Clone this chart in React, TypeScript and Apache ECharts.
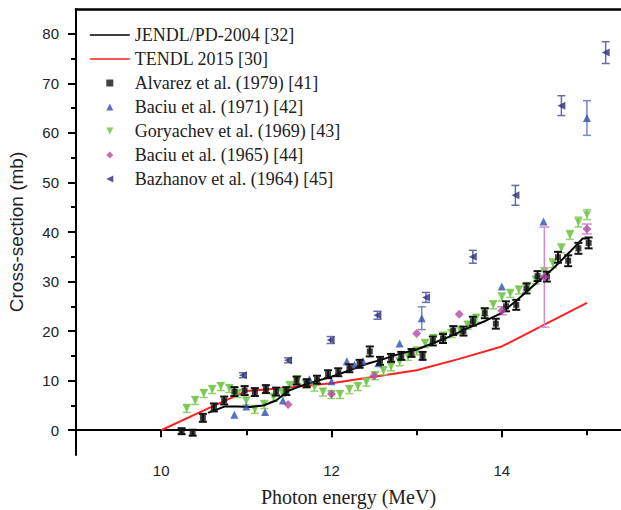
import React, { useEffect, useRef } from "react";
import * as echarts from "echarts";

// ---------- Data ----------
const jendlE = [10.55, 10.75, 10.9, 11.05, 11.2, 11.35, 11.5, 11.65, 11.8, 12.0, 12.2, 12.4, 12.6, 12.8, 13.0, 13.2, 13.4, 13.6, 13.8, 14.0, 14.2, 14.4, 14.6, 14.8, 14.95, 15.02];
const jendlCS = [3.5, 4.8, 4.8, 4.7, 5.0, 6.0, 8.0, 9.0, 9.8, 10.8, 12.0, 13.3, 14.3, 15.4, 16.3, 17.6, 19.0, 20.6, 22.0, 23.7, 26.6, 29.6, 32.6, 36.0, 38.7, 38.7];

const tendlE = [10.0, 10.5, 11.0, 11.5, 12.0, 12.5, 13.0, 13.5, 14.0, 14.5, 15.0];
const tendlCS = [0.0, 4.0, 7.9, 8.6, 9.5, 10.8, 12.1, 14.4, 16.9, 21.3, 25.7];

const alvarezE = [10.24, 10.37, 10.49, 10.62, 10.74, 10.86, 10.98, 11.10, 11.23, 11.35, 11.47, 11.59, 11.71, 11.83, 11.96, 12.08, 12.21, 12.33, 12.45, 12.57, 12.70, 12.82, 12.94, 13.07, 13.19, 13.31, 13.43, 13.55, 13.66, 13.80, 13.93, 14.05, 14.17, 14.29, 14.42, 14.53, 14.66, 14.78, 14.90, 15.02];
const alvarezCS = [-0.2, -0.5, 2.5, 4.6, 6.0, 7.8, 8.0, 7.7, 8.3, 7.8, 7.9, 10.0, 9.5, 10.2, 11.3, 11.7, 12.5, 13.4, 15.9, 14.0, 14.6, 15.0, 15.6, 15.0, 18.0, 18.5, 20.1, 20.0, 22.0, 23.6, 21.5, 25.0, 25.3, 28.6, 31.1, 31.0, 34.9, 34.2, 36.7, 37.8];
const alvarezErr = [0.6, 0.6, 0.8, 0.8, 0.8, 0.9, 0.9, 0.8, 0.8, 0.8, 0.8, 0.8, 0.8, 0.8, 0.8, 0.8, 0.8, 0.8, 1.0, 0.8, 0.8, 0.8, 0.8, 0.8, 0.9, 0.9, 0.9, 0.9, 0.9, 1.0, 1.0, 1.0, 1.0, 1.0, 1.0, 1.0, 1.1, 1.1, 1.1, 1.1];

const baciu71E = [10.86, 11.0, 11.22, 11.43, 11.74, 12.0, 12.18, 12.27, 12.37, 12.55, 12.80, 13.06, 14.0, 14.49, 15.0];
const baciu71CS = [3.1, 4.8, 3.7, 6.0, 10.3, 9.9, 13.9, 13.2, 13.9, 13.5, 17.5, 22.6, 29.0, 42.1, 63.0];
const baciu71Err = [0, 0, 0, 0, 0, 0, 0, 0, 0, 0, 0, 2.3, 0, 0, 3.5];

const goryE = [10.30, 10.40, 10.50, 10.60, 10.70, 10.80, 10.90, 11.00, 11.10, 11.21, 11.32, 11.42, 11.51, 11.60, 11.70, 11.80, 11.90, 12.00, 12.10, 12.21, 12.31, 12.41, 12.51, 12.61, 12.70, 12.80, 12.90, 13.00, 13.10, 13.20, 13.31, 13.41, 13.51, 13.60, 13.70, 13.80, 13.90, 14.00, 14.10, 14.20, 14.30, 14.40, 14.50, 14.60, 14.70, 14.80, 14.90, 15.00];
const goryCS = [4.4, 6.0, 7.4, 8.2, 8.8, 8.4, 7.4, 5.9, 4.2, 5.2, 6.6, 7.6, 9.0, 10.2, 9.3, 8.7, 7.7, 7.2, 7.2, 8.2, 8.8, 9.7, 11.0, 12.0, 12.8, 13.8, 14.9, 16.0, 17.5, 18.5, 19.0, 19.5, 20.2, 21.2, 22.6, 23.9, 25.3, 26.9, 27.6, 28.3, 29.0, 30.3, 32.0, 33.7, 36.7, 39.4, 42.0, 43.5];
const goryErr = [0.8, 0.8, 0.8, 0.8, 0.8, 0.8, 0.8, 0.8, 0.8, 0.8, 0.8, 0.8, 0.8, 0.8, 0.8, 0.8, 0.8, 0.8, 0.8, 0.8, 0.8, 0.8, 0.8, 0.8, 0.8, 0.8, 0.8, 0.8, 0.8, 0.8, 0.8, 0.8, 0.8, 0.8, 0.8, 0.8, 0.8, 0.8, 0.8, 0.8, 0.8, 0.8, 0.8, 0.9, 0.9, 0.9, 1.0, 1.0];

const baciu65E = [11.49, 12.0, 12.5, 13.0, 13.5, 14.0, 14.5, 15.0];
const baciu65CS = [5.2, 7.3, 11.0, 19.5, 23.4, 24.1, 30.9, 40.6];
const baciu65Err = [0, 0, 0, 0, 0, 0.8, 10.1, 1.0];

const bazhE = [10.96, 11.49, 11.99, 12.54, 13.11, 13.66, 14.16, 14.70, 15.22];
const bazhCS = [11.1, 14.1, 18.2, 23.2, 26.8, 35.0, 47.4, 65.5, 76.2];
const bazhErr = [0.5, 0.5, 0.7, 0.8, 1.0, 1.3, 2.0, 2.0, 2.2];

const xMajorLabels = [10, 12, 14];
const xMinorTicks = [11, 13, 15];
const yMajorLabels = [0, 10, 20, 30, 40, 50, 60, 70, 80];
const yMinorTicks = [5, 15, 25, 35, 45, 55, 65, 75];

const names = [
  "JENDL/PD-2004 [32]",
  "TENDL 2015 [30]",
  "Alvarez et al. (1979) [41]",
  "Baciu et al. (1971) [42]",
  "Goryachev et al. (1969) [43]",
  "Baciu et al. (1965) [44]",
  "Bazhanov et al. (1964) [45]",
];

const ICON_SQUARE = "path://M0,0L10,0L10,10L0,10Z";
const ICON_UP = "path://M5,0L10,10L0,10Z";
const ICON_DOWN = "path://M0,0L10,0L5,10Z";
const ICON_DIAMOND = "path://M5,0L10,5L5,10L0,5Z";
const ICON_LEFT = "path://M0,5L10,0L10,10Z";

const zip2 = (xs: number[], ys: number[]) => xs.map((x, i) => [x, ys[i]]);
const zip3 = (xs: number[], ys: number[], es: number[]) => xs.map((x, i) => [x, ys[i], es[i]]);

function errSeries(name: string, data: number[][], color: string, capHalf: number, lw: number, z: number) {
  return {
    type: "custom",
    name,
    silent: true,
    z,
    encode: { x: 0, y: 1 },
    data,
    renderItem: (params: any, api: any) => {
      const x = api.value(0);
      const y = api.value(1);
      const e = api.value(2);
      if (!e) return null;
      const t = api.coord([x, y + e]);
      const b = api.coord([x, y - e]);
      const style = { stroke: color, lineWidth: lw };
      return {
        type: "group",
        children: [
          { type: "line", shape: { x1: t[0], y1: t[1], x2: b[0], y2: b[1] }, style },
          { type: "line", shape: { x1: t[0] - capHalf, y1: t[1], x2: t[0] + capHalf, y2: t[1] }, style },
          { type: "line", shape: { x1: b[0] - capHalf, y1: b[1], x2: b[0] + capHalf, y2: b[1] }, style },
        ],
      };
    },
  };
}

export default function App() {
  const ref = useRef<HTMLDivElement>(null);
  useEffect(() => {
    if (!ref.current) return;
    const chart = echarts.init(ref.current, undefined, { renderer: "svg" });
    const axisCommon = { type: "value", min: 9, max: 15.4, splitLine: { show: false } };
    const yCommon = { type: "value", min: -5, max: 85, splitLine: { show: false } };
    chart.setOption({
      animation: false,
      backgroundColor: "#ffffff",
      grid: { left: 76, right: 0, top: 9, bottom: 55, containLabel: false, outerBoundsMode: "none" },
      legend: {
        orient: "vertical",
        left: 84,
        top: 21,
        itemWidth: 40,
        itemHeight: 7,
        itemGap: 6,
        symbolKeepAspect: true,
        data: [
          { name: names[0], itemStyle: { opacity: 0 }, lineStyle: { width: 1.6 } },
          { name: names[1], itemStyle: { opacity: 0 }, lineStyle: { width: 1.6 } },
          { name: names[2], icon: ICON_SQUARE },
          { name: names[3], icon: ICON_UP },
          { name: names[4], icon: ICON_DOWN },
          { name: names[5], icon: ICON_DIAMOND },
          { name: names[6], icon: ICON_LEFT },
        ],
        textStyle: { fontFamily: "Liberation Serif", fontSize: 18, color: "#222" },
      },
      xAxis: [
        {
          ...axisCommon,
          position: "bottom",
          axisLine: { show: true, lineStyle: { color: "#000", width: 2 } },
          axisTick: { show: true, customValues: xMajorLabels, length: 7, lineStyle: { color: "#000", width: 2 } },
          axisLabel: { customValues: xMajorLabels, fontFamily: "Liberation Sans", fontSize: 15, color: "#222", margin: 8 },
          name: "Photon energy (MeV)",
          nameLocation: "middle",
          nameGap: 32,
          nameTextStyle: { fontFamily: "Liberation Serif", fontSize: 20, color: "#222" },
        },
        {
          ...axisCommon,
          position: "bottom",
          axisLine: { show: false },
          axisTick: { show: true, customValues: xMinorTicks, length: 5, lineStyle: { color: "#000", width: 2 } },
          axisLabel: { show: false },
        },
        {
          ...axisCommon,
          position: "top",
          axisLine: { show: true, lineStyle: { color: "#000", width: 2.5 } },
          axisTick: { show: false },
          axisLabel: { show: false },
        },
      ],
      yAxis: [
        {
          ...yCommon,
          position: "left",
          axisLine: { show: true, lineStyle: { color: "#000", width: 2 } },
          axisTick: { show: true, customValues: yMajorLabels, length: 8, lineStyle: { color: "#000", width: 2 } },
          axisLabel: { customValues: yMajorLabels, fontFamily: "Liberation Sans", fontSize: 15, color: "#222", margin: 17 },
          name: "Cross-section (mb)",
          nameLocation: "middle",
          nameGap: 50,
          nameTextStyle: { fontFamily: "Liberation Sans", fontSize: 19, color: "#222" },
        },
        {
          ...yCommon,
          position: "left",
          axisLine: { show: false },
          axisTick: { show: true, customValues: yMinorTicks, length: 5, lineStyle: { color: "#000", width: 2 } },
          axisLabel: { show: false },
        },
      ],
      series: [
        {
          type: "line",
          name: names[1],
          data: zip2(tendlE, tendlCS),
          symbol: "none",
          showSymbol: false,
          lineStyle: { color: "#ff2020", width: 2 },
          itemStyle: { color: "#ff2020" },
          z: 2,
        },
        errSeries("gory-err", zip3(goryE, goryCS, goryErr), "#8fd46a", 4, 1.5, 3),
        {
          type: "scatter",
          name: names[4],
          data: zip2(goryE, goryCS),
          symbol: "triangle",
          symbolRotate: 180,
          symbolSize: 8,
          itemStyle: { color: "#6cc043" },
          z: 3,
        },
        errSeries("baciu71-err", zip3(baciu71E, baciu71CS, baciu71Err), "#7a86c8", 4, 1.5, 3),
        {
          type: "scatter",
          name: names[3],
          data: zip2(baciu71E, baciu71CS),
          symbol: "triangle",
          symbolSize: 8,
          itemStyle: { color: "#2f4fb0" },
          z: 4,
        },
        {
          type: "line",
          name: names[0],
          data: zip2(jendlE, jendlCS),
          symbol: "none",
          showSymbol: false,
          lineStyle: { color: "#000", width: 2 },
          itemStyle: { color: "#000" },
          z: 4,
        },
        errSeries("alvarez-err", zip3(alvarezE, alvarezCS, alvarezErr), "#111", 4, 2, 5),
        {
          type: "scatter",
          name: names[2],
          data: zip2(alvarezE, alvarezCS),
          symbol: "rect",
          symbolSize: 6,
          itemStyle: { color: "#111" },
          z: 5,
        },
        errSeries("baciu65-err", zip3(baciu65E, baciu65CS, baciu65Err), "#d48bcc", 5, 1.5, 4),
        {
          type: "scatter",
          name: names[5],
          data: zip2(baciu65E, baciu65CS),
          symbol: "diamond",
          symbolSize: 9,
          itemStyle: { color: "#b54aa8" },
          z: 5,
        },
        errSeries("bazh-err", zip3(bazhE, bazhCS, bazhErr), "#6a6aaa", 4, 1.5, 4),
        {
          type: "scatter",
          name: names[6],
          data: zip2(bazhE, bazhCS),
          symbol: "triangle",
          symbolRotate: 90,
          symbolSize: 8,
          itemStyle: { color: "#2d2d7d" },
          z: 5,
        },
      ],
    });
    return () => chart.dispose();
  }, []);
  return (
    <div
      ref={ref}
      style={{ position: "absolute", left: 0, top: 0, width: 621, height: 510, background: "#fff" }}
    />
  );
}
